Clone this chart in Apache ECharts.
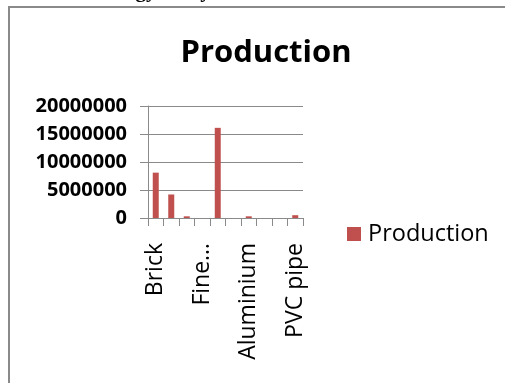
<!DOCTYPE html>
<html>
<head>
<meta charset="utf-8">
<script src="https://cdn.jsdelivr.net/npm/echarts@6/dist/echarts.min.js"></script>
<style>
html,body{margin:0;padding:0;background:#fff;}
#c{width:505px;height:383px;}
</style>
</head>
<body>
<div id="c"></div>
<script>
const categories = ['Brick', 'Cement', 'Lime', 'Fine aggregate', 'Coarse aggregate', 'Steel', 'Aluminium', 'Glass', 'Paint', 'PVC pipe'];
const production = [8100000, 4200000, 300000, 0, 16100000, 0, 300000, 0, 0, 500000];
const yTicks = [0, 5000000, 10000000, 15000000, 20000000];
const seriesName = 'Production';
const chartTitle = 'Production';
const headerText = 'Embodied energy analysis';

const chart = echarts.init(document.getElementById('c'), null, {renderer: 'canvas'});
const gray = '#8a8a8a';
chart.setOption({
  animation: false,
  backgroundColor: '#ffffff',
  graphic: [
    {type: 'rect', shape: {x: 9, y: 7, width: 600, height: 500}, style: {fill: 'none', stroke: gray, lineWidth: 2}, silent: true},
    {type: 'text', right: 272, top: -19, style: {text: headerText, font: 'bold 21px "Liberation Serif"', fill: '#000'}}
  ],
  title: {
    text: chartTitle,
    left: 261,
    top: 33,
    textAlign: 'center',
    textStyle: {fontFamily: 'Open Sans', fontWeight: 'bold', fontSize: 31, color: '#000'}
  },
  legend: {
    data: [seriesName],
    left: 347,
    top: 222,
    icon: 'rect',
    itemWidth: 14,
    itemHeight: 14,
    itemGap: 7,
    padding: 0,
    textStyle: {fontFamily: 'Open Sans', fontSize: 23.5, color: '#000', padding: [0, 0, 0, 2]}
  },
  grid: {left: 148, right: 202, top: 106, bottom: 165, containLabel: false},
  xAxis: {
    type: 'category',
    data: categories,
    boundaryGap: true,
    axisLine: {show: true, lineStyle: {color: gray, width: 1}},
    axisTick: {show: true, interval: 0, length: 8, lineStyle: {color: gray}},
    axisLabel: {
      interval: 2,
      rotate: 90,
      margin: 25,
      fontFamily: 'Open Sans',
      fontSize: 23,
      color: '#000',
      formatter: v => (v.length > 10 ? v.split(' ')[0] + '…' : v)
    }
  },
  yAxis: {
    type: 'value',
    min: yTicks[0],
    max: yTicks[yTicks.length - 1],
    interval: yTicks[1] - yTicks[0],
    axisLine: {show: true, lineStyle: {color: gray, width: 1}},
    axisTick: {show: true, length: 8, lineStyle: {color: gray}},
    splitLine: {show: true, lineStyle: {color: gray, width: 1}},
    axisLabel: {margin: 21, fontFamily: 'Open Sans', fontWeight: 'bold', fontSize: 20, color: '#000', formatter: v => String(v)}
  },
  series: [{
    name: seriesName,
    type: 'bar',
    data: production,
    barWidth: 6,
    itemStyle: {color: '#C0504D'}
  }]
});
</script>
</body>
</html>
